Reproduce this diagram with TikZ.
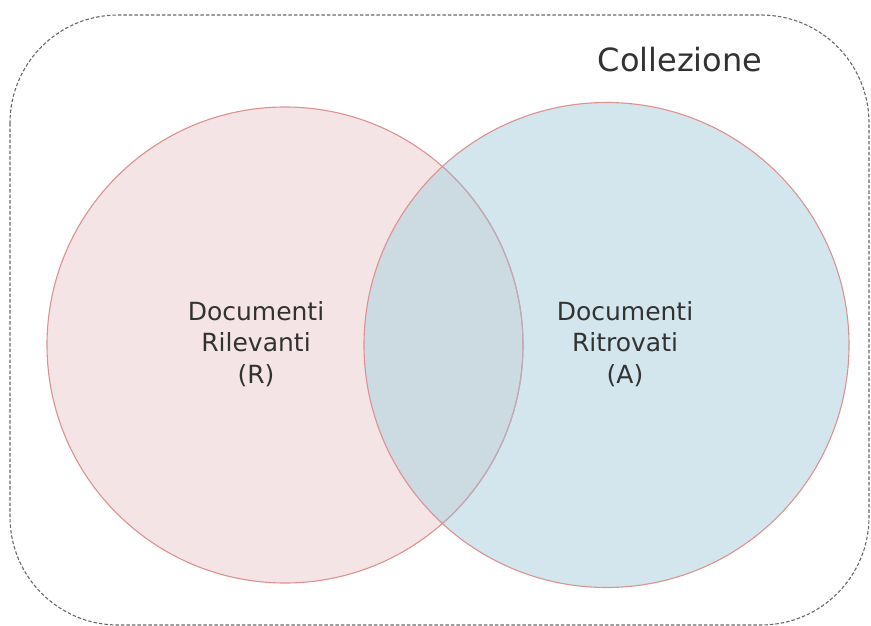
\documentclass[tikz,border=0pt]{standalone}
\usepackage{fontspec}
\setmainfont{DejaVu Sans}
\definecolor{relfill}{RGB}{245,228,229}
\definecolor{retfill}{RGB}{211,230,238}
\definecolor{bothfill}{RGB}{204,218,225}
\definecolor{ringline}{RGB}{222,145,145}
\definecolor{hiddenring}{RGB}{190,170,185}
\definecolor{framecol}{RGB}{105,105,105}
\definecolor{textcol}{RGB}{50,50,50}
\tikzset{
  label text/.style={align=center, text=textcol, font=\fontsize{25}{31.5}\selectfont, inner sep=0pt},
  ring/.style={draw=ringline, line width=1.1pt},
}
\begin{document}
\begin{tikzpicture}[x=1pt, y=-1pt]
  \useasboundingbox (0,0) rectangle (871,626);
  % collection frame
  \draw[framecol, dash pattern=on 3.5pt off 2pt, line width=1.1pt, rounded corners=108pt]
    (10,15) rectangle (869,625);
  % circle geometry
  \coordinate (rc) at (285,345);
  \coordinate (ac) at (606.5,345);
  % fills
  \fill[relfill] (rc) circle (238);
  \fill[retfill] (ac) circle (242.5);
  \begin{scope}
    \clip (rc) circle (238);
    \fill[bothfill] (ac) circle (242.5);
  \end{scope}
  % outlines
  \draw[ring] (rc) circle (238);
  \begin{scope}
    \clip (ac) circle (242.5);
    \draw[hiddenring, line width=1.1pt] (rc) circle (238);
  \end{scope}
  \draw[ring] (ac) circle (242.5);
  % labels
  \node[label text] (rel) at (256,344) {Documenti\\Rilevanti\\(R)};
  \node[label text] (ret) at (625,344) {Documenti\\Ritrovati\\(A)};
  \node[text=textcol, font=\fontsize{32}{38}\selectfont, inner sep=0pt, anchor=base] (coll) at (680,72) {Collezione};
\end{tikzpicture}
\end{document}
